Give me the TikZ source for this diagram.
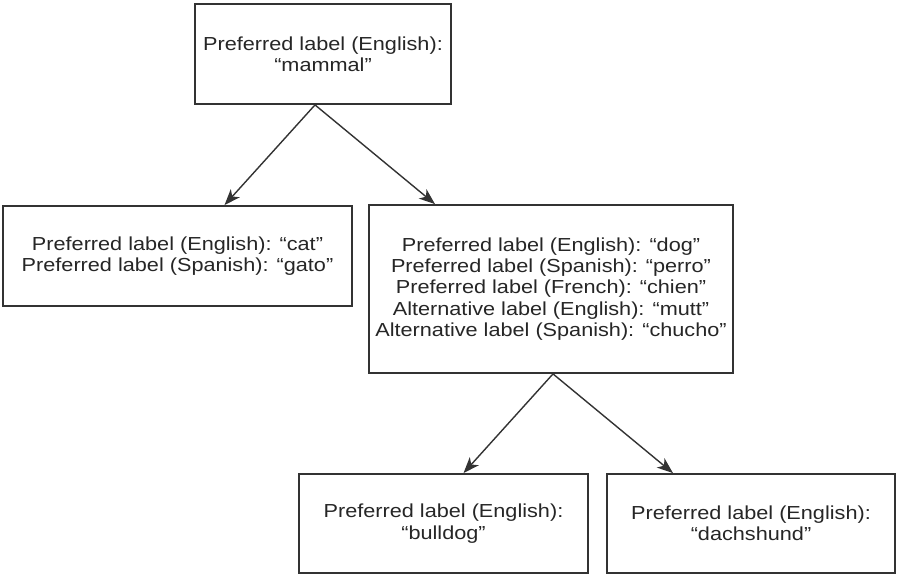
\documentclass[tikz,border=0pt]{standalone}
\usepackage{fontspec}
\setmainfont{Liberation Sans}[FakeStretch=1.15]
\usepackage{tikz}
\usetikzlibrary{arrows.meta,positioning}

\begin{document}
\begin{tikzpicture}[x=0.025cm,y=-0.025cm]

 \tikzstyle{concept}=[rectangle,draw=black!80,line width=0.045cm,fill=white,
inner sep=0cm,align=center,font=\fontsize{13.4pt}{15.2pt}\selectfont,text=black!85]
 \tikzstyle{narrower}=[draw=black!80,line width=0.035cm,-{Stealth[length=0.4cm,width=0.3cm,inset=0.11cm]}]

\useasboundingbox (0,0) rectangle (899,581);

% Top concept
\node[concept,minimum width=256*0.025cm,minimum height=100*0.025cm] (mammal) at (323,54)
  {Preferred label (English):\\“mammal”};

% Second level
\node[concept,minimum width=349*0.025cm,minimum height=100*0.025cm] (cat) at (177.5,256)
  {Preferred label (English): “cat”\\Preferred label (Spanish): “gato”};
\node[concept,minimum width=364*0.025cm,minimum height=168*0.025cm] (dog) at (551,289)
  {Preferred label (English): “dog”\\Preferred label (Spanish): “perro”\\Preferred label (French): “chien”\\Alternative label (English): “mutt”\\Alternative label (Spanish): “chucho”};

% Third level
\node[concept,minimum width=289*0.025cm,minimum height=99*0.025cm] (bulldog) at (443.5,523.5)
  {Preferred label (English):\\“bulldog”};
\node[concept,minimum width=288*0.025cm,minimum height=99*0.025cm] (dachshund) at (751,523.5)
  {Preferred label (English):\\“dachshund”};

% Arrows
\draw[narrower] ([xshift=-8*0.025cm]mammal.south) -- ([xshift=47*0.025cm]cat.north);
\draw[narrower] ([xshift=-8*0.025cm]mammal.south) -- ([xshift=-116*0.025cm]dog.north);

\draw[narrower] ([xshift=2*0.025cm]dog.south) -- ([xshift=20*0.025cm]bulldog.north);
\draw[narrower] ([xshift=2*0.025cm]dog.south) -- ([xshift=-78*0.025cm]dachshund.north);

\end{tikzpicture}
\end{document}
